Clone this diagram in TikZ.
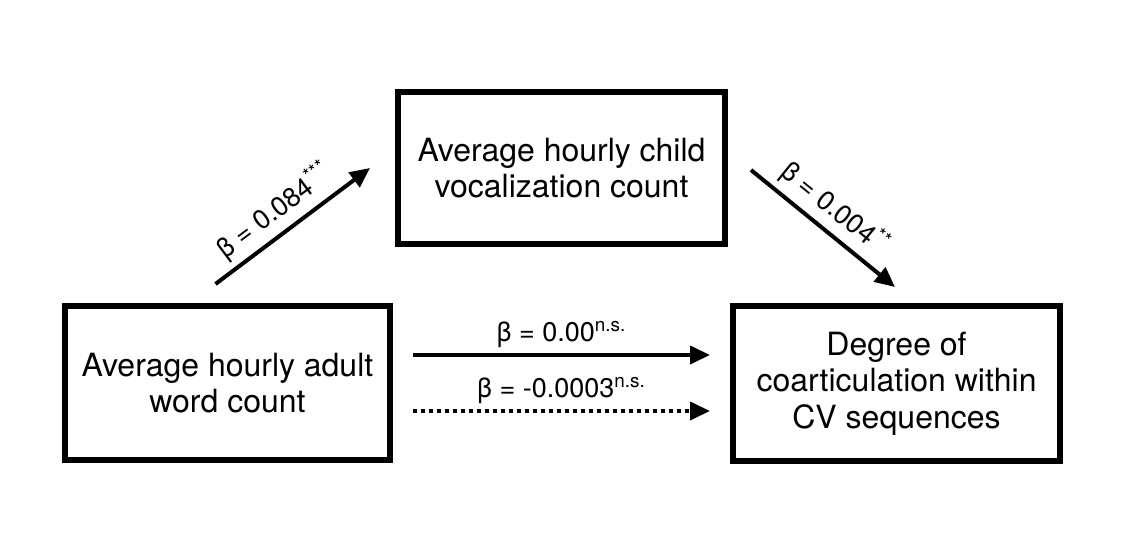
\documentclass[tikz,border=0pt]{standalone}
\usepackage{fontspec}
\setmainfont{TeX Gyre Heros}
\usepackage{tikz}
\usetikzlibrary{arrows.meta,calc,positioning}

\begin{document}
\begin{tikzpicture}[x=0.5pt,y=0.5pt,
    box/.style={draw,line width=3pt,align=center,inner sep=0pt,
      font=\fontsize{16}{18.2}\selectfont},
    path/.style={line width=2pt,-{Triangle[length=10pt,width=9pt]}},
    coef/.style={font=\fontsize{13.5}{15}\selectfont,inner sep=1pt}]
    \useasboundingbox (0,0) rectangle (1134,547);

    \node[box,minimum width=163.5pt,minimum height=76pt] (child) at (561.5,379)
      {Average hourly child\\vocalization count};
    \node[box,minimum width=162.5pt,minimum height=77pt] (adult) at (227.5,164)
      {Average hourly adult\\word count};
    \node[box,minimum width=163.5pt,minimum height=77.5pt] (outcome) at (896.5,163.5)
      {Degree of\\coarticulation within\\CV sequences};

    \draw[path] ($(adult.north)+(-12,19)$) -- ($(child.west)+(-25,0)$)
      node[coef,sloped,above=2pt,pos=0.47] {β = 0.084\textsuperscript{***}};
    \draw[path] ($(child.east)+(23,-2)$) -- ($(outcome.north)+(-1.5,16)$)
      node[coef,sloped,above=2pt,pos=0.48] {β = 0.004\textsuperscript{**}};
    \draw[path] ($(adult.east)+(20,28)$) -- ($(outcome.west)+(-20,28.5)$)
      node[coef,above=1.5pt,midway] {β = 0.00\textsuperscript{n.s.}};
    \draw[path,dash pattern=on 2pt off 2pt] ($(adult.east)+(20,-28)$) -- ($(outcome.west)+(-20,-27.5)$)
      node[coef,above=1.5pt,midway] {β = -0.0003\textsuperscript{n.s.}};
  \end{tikzpicture}
\end{document}
